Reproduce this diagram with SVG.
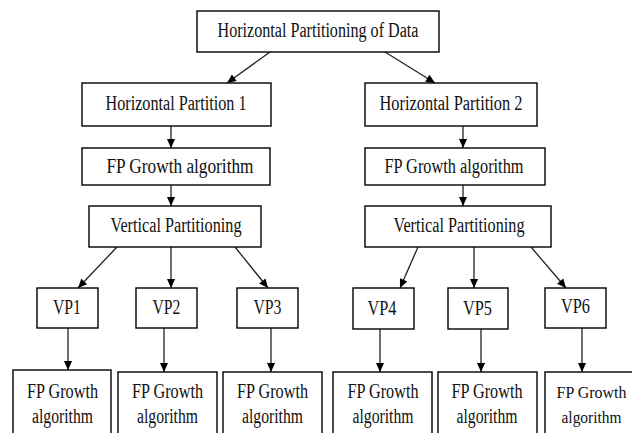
<svg xmlns="http://www.w3.org/2000/svg" width="632" height="433" viewBox="0 0 632 433">
<defs>
<style>
.box{fill:#fff;stroke:#000;stroke-width:1.4}
.t{font-family:"Liberation Serif","Times New Roman",serif;font-size:20px;fill:#111;text-anchor:middle}
.s{font-size:17px}
.c{stroke:#222;stroke-width:1.3;fill:none;marker-end:url(#ah)}
</style>
<marker id="ah" viewBox="0 0 10 10" refX="10" refY="5" markerWidth="10" markerHeight="9" orient="auto" markerUnits="userSpaceOnUse">
<path d="M0,0.5 L10,5 L0,9.5 z" fill="#000"/>
</marker>
</defs>
<rect width="632" height="433" fill="#fff"/>
<g id="connectors">
<line class="c" x1="270" y1="52" x2="227" y2="83"/>
<line class="c" x1="385" y1="52" x2="435" y2="83"/>
<line class="c" x1="171" y1="126" x2="171" y2="148"/>
<line class="c" x1="463" y1="126" x2="463" y2="148"/>
<line class="c" x1="171" y1="185" x2="171" y2="206"/>
<line class="c" x1="463" y1="185" x2="463" y2="206"/>
<line class="c" x1="117" y1="247" x2="78" y2="288"/>
<line class="c" x1="171" y1="247" x2="171" y2="288"/>
<line class="c" x1="235" y1="247" x2="268" y2="288"/>
<line class="c" x1="418" y1="247" x2="400" y2="288"/>
<line class="c" x1="474" y1="247" x2="474" y2="288"/>
<line class="c" x1="531" y1="247" x2="566" y2="288"/>
<line class="c" x1="68" y1="328" x2="68" y2="370"/>
<line class="c" x1="164" y1="328" x2="164" y2="372"/>
<line class="c" x1="271" y1="328" x2="271" y2="372"/>
<line class="c" x1="380" y1="329" x2="380" y2="372"/>
<line class="c" x1="481" y1="329" x2="481" y2="372"/>
<line class="c" x1="582" y1="328" x2="582" y2="372"/>
</g>
<g id="top"><rect class="box" x="197" y="11" width="242" height="41"/><text class="t" x="318" y="37" textLength="201" lengthAdjust="spacingAndGlyphs">Horizontal Partitioning of Data</text></g>
<g id="hp1"><rect class="box" x="82" y="83" width="189" height="43"/><text class="t" x="176" y="110" textLength="141" lengthAdjust="spacingAndGlyphs">Horizontal Partition 1</text></g>
<g id="hp2"><rect class="box" x="365" y="83" width="172" height="43"/><text class="t" x="451" y="110" textLength="143" lengthAdjust="spacingAndGlyphs">Horizontal Partition 2</text></g>
<g id="fp1"><rect class="box" x="82" y="148" width="188" height="37"/><text class="t" x="180" y="173" textLength="147" lengthAdjust="spacingAndGlyphs">FP Growth algorithm</text></g>
<g id="fp2"><rect class="box" x="365" y="148" width="180" height="37"/><text class="t" x="454" y="173" textLength="139" lengthAdjust="spacingAndGlyphs">FP Growth algorithm</text></g>
<g id="vpart1"><rect class="box" x="89" y="206" width="172" height="41"/><text class="t" x="176" y="232" textLength="131" lengthAdjust="spacingAndGlyphs">Vertical Partitioning</text></g>
<g id="vpart2"><rect class="box" x="365" y="206" width="186" height="41"/><text class="t" x="459" y="232" textLength="131" lengthAdjust="spacingAndGlyphs">Vertical Partitioning</text></g>
<g id="vp1"><rect class="box" x="37" y="288" width="61" height="40"/><text class="t" x="67" y="314" textLength="28" lengthAdjust="spacingAndGlyphs">VP1</text></g>
<g id="vp2"><rect class="box" x="136" y="288" width="61" height="40"/><text class="t" x="166.5" y="314" textLength="28" lengthAdjust="spacingAndGlyphs">VP2</text></g>
<g id="vp3"><rect class="box" x="237" y="288" width="61" height="40"/><text class="t" x="267.5" y="314" textLength="28" lengthAdjust="spacingAndGlyphs">VP3</text></g>
<g id="vp4"><rect class="box" x="353" y="288" width="61" height="41"/><text class="t" x="382" y="315" textLength="29" lengthAdjust="spacingAndGlyphs">VP4</text></g>
<g id="vp5"><rect class="box" x="448" y="288" width="60" height="41"/><text class="t" x="477.5" y="315" textLength="29" lengthAdjust="spacingAndGlyphs">VP5</text></g>
<g id="vp6"><rect class="box" x="545" y="288" width="61" height="40"/><text class="t" x="575.5" y="313" textLength="29" lengthAdjust="spacingAndGlyphs">VP6</text></g>
<g id="fpb1"><rect class="box" x="13" y="370" width="98" height="64"/><text class="t" x="62.5" y="398" textLength="71" lengthAdjust="spacingAndGlyphs">FP Growth</text><text class="t" x="62.5" y="423" textLength="61" lengthAdjust="spacingAndGlyphs">algorithm</text></g>
<g id="fpb2"><rect class="box" x="118" y="372" width="99" height="62"/><text class="t" x="167.5" y="398" textLength="71" lengthAdjust="spacingAndGlyphs">FP Growth</text><text class="t" x="167.5" y="423" textLength="61" lengthAdjust="spacingAndGlyphs">algorithm</text></g>
<g id="fpb3"><rect class="box" x="223" y="372" width="99" height="62"/><text class="t" x="272.5" y="398" textLength="71" lengthAdjust="spacingAndGlyphs">FP Growth</text><text class="t" x="272.5" y="423" textLength="61" lengthAdjust="spacingAndGlyphs">algorithm</text></g>
<g id="fpb4"><rect class="box" x="333" y="372" width="99" height="62"/><text class="t" x="383" y="398" textLength="71" lengthAdjust="spacingAndGlyphs">FP Growth</text><text class="t" x="383" y="423" textLength="61" lengthAdjust="spacingAndGlyphs">algorithm</text></g>
<g id="fpb5"><rect class="box" x="438" y="372" width="99" height="62"/><text class="t" x="487" y="398" textLength="71" lengthAdjust="spacingAndGlyphs">FP Growth</text><text class="t" x="487" y="423" textLength="61" lengthAdjust="spacingAndGlyphs">algorithm</text></g>
<g id="fpb6"><rect class="box" x="545" y="372" width="88" height="62"/><text class="t s" x="591.5" y="398" textLength="70" lengthAdjust="spacingAndGlyphs">FP Growth</text><text class="t s" x="591.5" y="423" textLength="60" lengthAdjust="spacingAndGlyphs">algorithm</text></g>
</svg>
